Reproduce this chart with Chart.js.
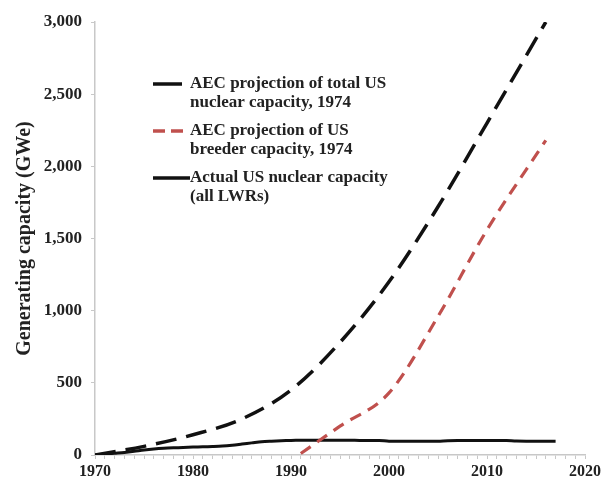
<!DOCTYPE html>
<html>
<head>
<meta charset="utf-8">
<script src="https://cdn.jsdelivr.net/npm/chart.js@4.4.1/dist/chart.umd.min.js"></script>
<style>
  html, body { margin: 0; padding: 0; background: #fff; }
  #wrap { width: 604px; height: 484px; }
</style>
</head>
<body>
<div id="wrap"><canvas id="chart"></canvas></div>
<script>
// AEC 1974 projection, total US nuclear capacity (GWe)
const projYears = [1970, 1975, 1980, 1985, 1990, 1995, 2000, 2005, 2010, 2016];
const projTotal = [0, 60, 140, 250, 450, 780, 1200, 1720, 2300, 3000];

// AEC 1974 projection, breeder capacity (GWe)
const breederYears = [1991, 1995, 2000, 2005, 2010, 2016];
const breederCap = [10, 200, 430, 960, 1560, 2180];

// Actual US nuclear capacity (GWe)
const actualYears = [1970, 1971, 1972, 1973, 1974, 1975, 1976, 1977, 1978, 1979,
  1980, 1981, 1982, 1983, 1984, 1985, 1986, 1987, 1988, 1989,
  1990, 1991, 1992, 1993, 1994, 1995, 1996, 1997, 1998, 1999,
  2000, 2001, 2002, 2003, 2004, 2005, 2006, 2007, 2008, 2009,
  2010, 2011, 2012, 2013, 2014, 2015, 2016, 2017];
const actualCap = [0, 6, 12, 18, 26, 35, 42, 47, 50, 52,
  55, 57, 59, 62, 68, 76, 84, 92, 96, 99,
  101, 102, 102, 102, 102, 102, 102, 101, 101, 100,
  96, 95, 95, 95, 96, 96, 99, 100, 100, 100,
  101, 101, 100, 97, 96, 96, 96, 96];

const xTicks = [1970, 1980, 1990, 2000, 2010, 2020];
const yTicks = [0, 500, 1000, 1500, 2000, 2500, 3000];

const legendRows = [
  { lines: ['AEC projection of total US', 'nuclear capacity, 1974'], color: '#111', dash: [], x1: 182 },
  { lines: ['AEC projection of US', 'breeder capacity, 1974'], color: '#c0504d', dash: [12, 6], x1: 183 },
  { lines: ['Actual US nuclear capacity', '(all LWRs)'], color: '#111', dash: [], x1: 190 }
];

const serif = '"Liberation Serif", "Times New Roman", serif';

function toPoints(xs, ys) {
  return xs.map((x, i) => ({ x: x, y: ys[i] }));
}

const legendPlugin = {
  id: 'customLegend',
  afterDraw(chart) {
    const ctx = chart.ctx;
    ctx.save();
    ctx.font = 'bold 17px ' + serif;
    ctx.textBaseline = 'middle';
    ctx.fillStyle = '#222';
    let y = 84;
    legendRows.forEach(row => {
      ctx.strokeStyle = row.color;
      ctx.lineWidth = 3.5;
      ctx.setLineDash(row.dash);
      ctx.beginPath();
      ctx.moveTo(153, y);
      ctx.lineTo(row.x1, y);
      ctx.stroke();
      ctx.setLineDash([]);
      row.lines.forEach((t, i) => ctx.fillText(t, 190, y + i * 19));
      y += 47;
    });
    ctx.restore();
  }
};

new Chart(document.getElementById('chart'), {
  type: 'line',
  data: {
    datasets: [
      {
        label: 'AEC projection of total US nuclear capacity, 1974',
        data: toPoints(projYears, projTotal),
        borderColor: '#111',
        borderWidth: 3.5,
        borderDash: [21, 10],
        cubicInterpolationMode: 'monotone',
        pointRadius: 0,
        fill: false
      },
      {
        label: 'AEC projection of US breeder capacity, 1974',
        data: toPoints(breederYears, breederCap),
        borderColor: '#c0504d',
        borderWidth: 3.2,
        borderDash: [12, 8],
        cubicInterpolationMode: 'monotone',
        pointRadius: 0,
        fill: false
      },
      {
        label: 'Actual US nuclear capacity (all LWRs)',
        data: toPoints(actualYears, actualCap),
        borderColor: '#111',
        borderWidth: 3,
        tension: 0.3,
        pointRadius: 0,
        fill: false
      }
    ]
  },
  options: {
    responsive: true,
    maintainAspectRatio: false,
    animation: false,
    layout: { padding: { left: 0, top: 22, right: 19, bottom: 0 } },
    plugins: {
      legend: { display: false },
      tooltip: { enabled: false }
    },
    scales: {
      x: {
        type: 'linear',
        min: 1970,
        max: 2020,
        afterFit: (scale) => { scale.height = 29; },
        afterBuildTicks: (scale) => {
          const ticks = [];
          for (let v = 1970; v <= 2020; v++) ticks.push({ value: v });
          scale.ticks = ticks;
        },
        border: { color: '#c8c8c8', width: 1.5 },
        grid: { drawOnChartArea: false, drawTicks: true, tickLength: 4, color: '#c8c8c8' },
        ticks: {
          autoSkip: false,
          maxRotation: 0,
          padding: 3,
          color: '#222',
          font: { family: serif, size: 16, weight: 'bold' },
          callback: (v) => xTicks.includes(v) ? String(v) : ''
        }
      },
      y: {
        min: 0,
        max: 3000,
        afterFit: (scale) => { scale.width = 95; },
        afterBuildTicks: (scale) => { scale.ticks = yTicks.map(v => ({ value: v })); },
        border: { color: '#c8c8c8', width: 1.5 },
        grid: { drawOnChartArea: false, drawTicks: true, tickLength: 4, color: '#c8c8c8' },
        title: {
          display: true,
          text: 'Generating capacity (GWe)',
          color: '#222',
          font: { family: serif, size: 20, weight: 'bold' },
          padding: { top: 13, bottom: 0 }
        },
        ticks: {
          padding: 9,
          color: '#222',
          font: { family: serif, size: 17, weight: 'bold' },
          callback: (v) => v.toLocaleString('en-US')
        }
      }
    }
  },
  plugins: [legendPlugin]
});
</script>
</body>
</html>
